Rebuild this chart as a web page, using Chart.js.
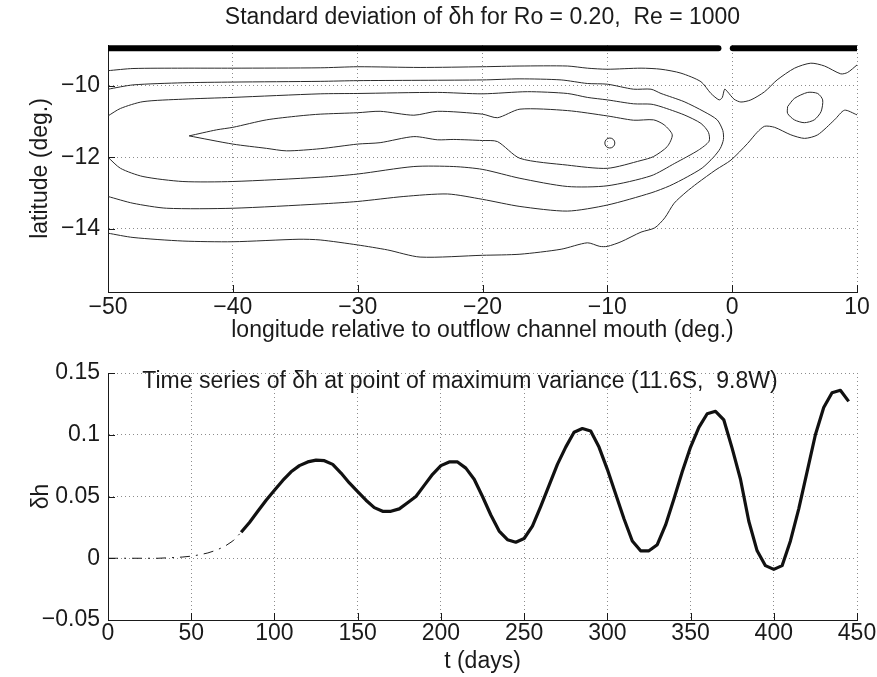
<!DOCTYPE html>
<html>
<head>
<meta charset="utf-8">
<script src="https://cdn.jsdelivr.net/npm/chart.js@4.4.1/dist/chart.umd.min.js"></script>
<style>
  body { margin: 0; background: #fff; }
  .panel { position: absolute; left: 0; }
</style>
</head>
<body>
<div class="panel" style="top:0"><canvas id="chart-contour" width="877" height="345"></canvas></div>
<div class="panel" style="top:345px"><canvas id="chart-series" width="877" height="332"></canvas></div>
<script>
// ===== Data: contours of std(δh), lon/lat pairs =====
const coastWest = [[-50, -8.94], [-1.1, -8.94]];
const coastEast = [[0.05, -8.94], [10, -8.94]];

const contourTopEdge = [
  [-50, -9.57], [-48, -9.51], [-44, -9.50], [-40, -9.50], [-33, -9.49], [-30, -9.46],
  [-25, -9.48], [-20, -9.46], [-17, -9.44], [-13.2, -9.44], [-11.6, -9.50], [-10, -9.53],
  [-7.3, -9.50], [-5.7, -9.53], [-4.1, -9.64], [-2.5, -9.88], [-1.7, -10.21], [-1.05, -10.39],
  [-0.8, -10.33], [-0.6, -10.09], [-0.35, -10.17], [0.15, -10.37], [0.7, -10.45], [1.5, -10.39],
  [2.6, -10.16], [3.6, -9.83], [5.0, -9.50], [6.3, -9.36], [7.4, -9.44], [8.7, -9.66],
  [9.25, -9.62], [10, -9.41]
];

const contourSecond = [
  [-50, -10.09], [-48, -9.97], [-44, -9.91], [-40, -9.89], [-33, -9.87], [-30, -9.85],
  [-20, -9.83], [-17, -9.80], [-13.7, -9.83], [-11.6, -9.93], [-10, -9.95], [-7.9, -10.09],
  [-6.5, -10.09], [-5.7, -10.21], [-3.85, -10.44], [-2.25, -10.72], [-1.2, -10.95],
  [-0.75, -11.25], [-0.7, -11.5], [-0.95, -11.75], [-1.5, -12.0], [-2.4, -12.3],
  [-3.6, -12.55], [-5, -12.8], [-6.5, -13.0], [-10, -13.34], [-13.2, -13.51], [-17, -13.38],
  [-20, -13.18], [-22.8, -13.03], [-26.3, -13.10], [-30, -13.24], [-33, -13.31],
  [-40, -13.43], [-45.3, -13.43], [-48, -13.29], [-50, -13.10]
];

const contourThird = [
  [-50, -10.84], [-49, -10.63], [-47.2, -10.44], [-44, -10.37], [-40, -10.32], [-33, -10.22],
  [-30, -10.21], [-23.6, -10.18], [-20, -10.22], [-16.4, -10.16], [-13.2, -10.21],
  [-11.6, -10.32], [-10, -10.39], [-7.9, -10.50], [-6.5, -10.51], [-5.7, -10.58],
  [-3.85, -10.81], [-2.5, -11.05], [-1.9, -11.3], [-1.85, -11.55], [-2.7, -11.8],
  [-4.6, -12.17], [-6.5, -12.52], [-10, -12.80], [-13.2, -12.82], [-17, -12.59],
  [-20, -12.34], [-22.3, -12.26], [-25.5, -12.26], [-30, -12.47], [-33, -12.56],
  [-40, -12.68], [-44, -12.68], [-47.2, -12.54], [-49, -12.31], [-50, -12.0]
];

const contourInner = [
  [-43.5, -11.40], [-41.3, -11.23], [-40, -11.16], [-37.3, -10.95], [-34.7, -10.84],
  [-33, -10.79], [-30, -10.75], [-28.2, -10.71], [-25.5, -10.82], [-23.6, -10.71],
  [-20, -10.79], [-18.8, -10.89], [-17, -10.65], [-13.2, -10.69], [-10, -10.84],
  [-7.9, -10.96], [-6.3, -10.95], [-5.45, -11.09], [-4.8, -11.37], [-5.2, -11.70],
  [-6.3, -11.98], [-7.3, -12.09], [-10, -12.31], [-13.2, -12.22], [-17, -12.03],
  [-18.8, -11.56], [-20, -11.53], [-22.3, -11.50], [-23.6, -11.51], [-25.5, -11.42],
  [-28.2, -11.59], [-30, -11.63], [-33, -11.76], [-35.7, -11.82], [-37.3, -11.75],
  [-40, -11.63], [-43.5, -11.40]
];

const contourLoopEast = [
  [4.44, -10.58], [4.98, -10.35], [6.05, -10.18], [6.85, -10.21], [7.25, -10.39],
  [7.12, -10.72], [6.58, -10.95], [5.78, -11.03], [4.98, -10.95], [4.44, -10.77], [4.44, -10.58]
];

const contourOuter = [
  [-50, -14.13], [-48, -14.25], [-44, -14.35], [-40, -14.37], [-34.7, -14.30], [-33, -14.32],
  [-30, -14.46], [-27.6, -14.6], [-25, -14.8], [-20, -14.75], [-17, -14.72], [-13.7, -14.58],
  [-11.6, -14.4], [-10.6, -14.5], [-10, -14.5], [-8.9, -14.37], [-7.3, -14.1], [-6.2, -13.98],
  [-5.4, -13.7], [-4.65, -13.29], [-3.7, -12.98], [-2.8, -12.73], [-1.3, -12.35],
  [-0.1, -12.08], [1.24, -11.61], [2.0, -11.3], [2.6, -11.13], [3.4, -11.16], [4.7, -11.37],
  [5.8, -11.47], [6.85, -11.37], [8.2, -10.95], [9.0, -10.68], [10, -10.81]
];

const maxVariancePoint = [[-9.8, -11.6]];

// ===== Data: time series of δh at the max-variance point =====
const spinupDays = [0, 5, 10, 15, 20, 25, 30, 35, 40, 45, 50, 55, 60, 65, 70, 75, 80];
const spinupDh = [0, 0, 0, 0, 0, 0, 0, 0.0003, 0.0006, 0.001, 0.0017, 0.0028, 0.0043,
  0.0065, 0.0095, 0.014, 0.021];

const days = [80, 85, 90, 95, 100, 105, 110, 115, 120, 125, 130, 135, 140, 145, 150, 155,
  160, 165, 170, 175, 180, 185, 190, 195, 200, 205, 210, 215, 220, 225, 230, 235, 240, 245,
  250, 255, 260, 265, 270, 275, 280, 285, 290, 295, 300, 305, 310, 315, 320, 325, 330, 335,
  340, 345, 350, 355, 360, 365, 370, 375, 380, 385, 390, 395, 400, 405, 410, 415, 420, 425,
  430, 435, 440, 445];
const dh = [0.021, 0.029, 0.038, 0.047, 0.055, 0.063, 0.070, 0.075, 0.078, 0.0795, 0.079,
  0.076, 0.069, 0.061, 0.054, 0.047, 0.041, 0.038, 0.038, 0.040, 0.045, 0.050, 0.059, 0.068,
  0.075, 0.078, 0.078, 0.073, 0.064, 0.050, 0.035, 0.022, 0.015, 0.013, 0.016, 0.026, 0.042,
  0.059, 0.076, 0.090, 0.102, 0.105, 0.103, 0.090, 0.072, 0.052, 0.032, 0.014, 0.006, 0.006,
  0.011, 0.027, 0.048, 0.070, 0.090, 0.106, 0.117, 0.119, 0.112, 0.089, 0.064, 0.030, 0.006,
  -0.006, -0.009, -0.006, 0.014, 0.040, 0.070, 0.100, 0.122, 0.134, 0.136, 0.127];

// ===== Text =====
const TOP_TITLE = 'Standard deviation of \u03B4h for Ro = 0.20,  Re = 1000';
const SERIES_NOTE = 'Time series of \u03B4h at point of maximum variance (11.6S,  9.8W)';

// ===== Shared styling =====
const FONT = '"Liberation Sans", Arial, Helvetica, sans-serif';
const TEXT = '#1a1a1a';
const TICK_LEN = 7;
Chart.defaults.font.family = FONT;
Chart.defaults.font.size = 23;
Chart.defaults.color = TEXT;

const minus = (v) => (v < 0 ? '\u2212' : '') + parseFloat(Math.abs(v).toFixed(2));
const pts = (pairs) => pairs.map(p => ({ x: p[0], y: p[1] }));

// MATLAB-style ticks pointing into the axes
const inwardTicks = {
  id: 'inwardTicks',
  afterDatasetsDraw(chart) {
    const { ctx, chartArea: a, scales: { x, y } } = chart;
    ctx.save();
    ctx.strokeStyle = TEXT;
    ctx.lineWidth = 1;
    ctx.beginPath();
    x.ticks.forEach(t => {
      const px = Math.round(x.getPixelForValue(t.value)) + 0.5;
      ctx.moveTo(px, a.bottom);
      ctx.lineTo(px, a.bottom - TICK_LEN);
    });
    y.ticks.forEach(t => {
      const py = Math.round(y.getPixelForValue(t.value)) + 0.5;
      ctx.moveTo(a.left, py);
      ctx.lineTo(a.left + TICK_LEN, py);
    });
    ctx.stroke();
    ctx.restore();
  }
};

function axis(opts) {
  return {
    type: 'linear',
    min: opts.min,
    max: opts.max,
    title: { display: true, text: opts.title, padding: opts.titlePad, font: { size: 23 } },
    ticks: {
      stepSize: opts.step,
      includeBounds: false,
      padding: opts.tickPad,
      maxRotation: 0,
      autoSkip: false,
      callback: minus
    },
    grid: { color: '#8c8c8c', lineWidth: 1, drawTicks: false },
    border: { display: true, color: TEXT, width: 1, dash: [1, 3] },
    afterFit: opts.fit
  };
}

function contourSet(pairs) {
  return {
    data: pts(pairs),
    showLine: true,
    borderColor: '#2a2a2a',
    borderWidth: 1,
    pointRadius: 0,
    tension: 0.25
  };
}

// ===== Top panel: contour map =====
new Chart(document.getElementById('chart-contour'), {
  type: 'scatter',
  data: {
    datasets: [
      contourSet(contourTopEdge),
      contourSet(contourSecond),
      contourSet(contourThird),
      contourSet(contourInner),
      contourSet(contourLoopEast),
      contourSet(contourOuter),
      {
        data: pts(maxVariancePoint),
        pointRadius: 5,
        pointStyle: 'circle',
        borderColor: '#2a2a2a',
        borderWidth: 1,
        backgroundColor: 'rgba(0,0,0,0)'
      },
      {
        data: pts(coastWest), showLine: true, borderColor: '#000', borderWidth: 6,
        borderCapStyle: 'round', pointRadius: 0, clip: 0
      },
      {
        data: pts(coastEast), showLine: true, borderColor: '#000', borderWidth: 6,
        borderCapStyle: 'round', pointRadius: 0, clip: 0
      }
    ]
  },
  options: {
    responsive: false,
    animation: false,
    events: [],
    layout: { padding: { left: 0, right: 20, top: 0, bottom: 0 } },
    scales: {
      x: axis({
        min: -50, max: 10, step: 10, tickPad: 2,
        title: 'longitude relative to outflow channel mouth (deg.)',
        titlePad: { top: 0, bottom: 1 },
        fit: (s) => { s.height = 53; }
      }),
      y: axis({
        min: -15.78, max: -8.85, step: 2, tickPad: 8,
        title: 'latitude (deg.)',
        titlePad: { top: 27, bottom: 0 },
        fit: (s) => { s.width = 108; }
      })
    },
    plugins: {
      legend: { display: false },
      tooltip: { enabled: false },
      title: {
        display: true,
        text: TOP_TITLE,
        fullSize: false,
        color: TEXT,
        font: { size: 23, weight: 'normal' },
        padding: { top: 4.2, bottom: 13.2 }
      }
    }
  },
  plugins: [inwardTicks]
});

// ===== Bottom panel: time series =====
const seriesNote = {
  id: 'seriesNote',
  afterDraw(chart) {
    const { ctx, scales: { x, y } } = chart;
    ctx.save();
    ctx.font = '23px ' + FONT;
    ctx.fillStyle = TEXT;
    ctx.textBaseline = 'middle';
    ctx.fillText(SERIES_NOTE, x.getPixelForValue(20.6), y.getPixelForValue(0.143));
    ctx.restore();
  }
};

new Chart(document.getElementById('chart-series'), {
  type: 'scatter',
  data: {
    datasets: [
      {
        data: spinupDays.map((t, i) => ({ x: t, y: spinupDh[i] })),
        showLine: true,
        borderColor: '#1a1a1a',
        borderWidth: 1,
        borderDash: [10, 6, 2, 6],
        pointRadius: 0
      },
      {
        data: days.map((t, i) => ({ x: t, y: dh[i] })),
        showLine: true,
        borderColor: '#111',
        borderWidth: 3.2,
        borderJoinStyle: 'round',
        pointRadius: 0
      }
    ]
  },
  options: {
    responsive: false,
    animation: false,
    events: [],
    layout: { padding: { left: 0, right: 20, top: 28, bottom: 0 } },
    scales: {
      x: axis({
        min: 0, max: 450, step: 50, tickPad: 0,
        title: 't (days)',
        titlePad: { top: 0, bottom: 2 },
        fit: (s) => { s.height = 57; }
      }),
      y: axis({
        min: -0.05, max: 0.15, step: 0.05, tickPad: 8,
        title: '\u03B4h',
        titlePad: { top: 28, bottom: 0 },
        fit: (s) => { s.width = 108; }
      })
    },
    plugins: {
      legend: { display: false },
      tooltip: { enabled: false }
    }
  },
  plugins: [inwardTicks, seriesNote]
});
</script>
</body>
</html>
